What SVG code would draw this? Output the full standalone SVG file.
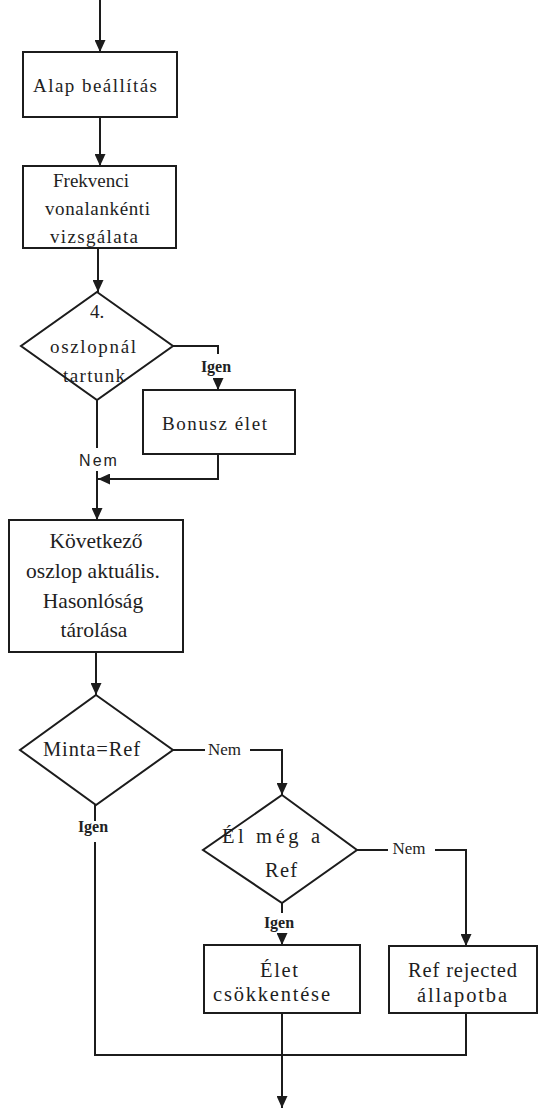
<svg xmlns="http://www.w3.org/2000/svg" width="538" height="1110" viewBox="0 0 538 1110">
<style>
.box{fill:#fff;stroke:#1c1c1c;stroke-width:2}
.ln{fill:none;stroke:#1c1c1c;stroke-width:2}
.arr{marker-end:url(#ah)}
.t{font-family:"Liberation Serif","Times New Roman",serif;font-size:19px;fill:#1e1e1e;text-anchor:middle}
.tb{font-family:"Liberation Serif","Times New Roman",serif;font-size:20.5px;fill:#1e1e1e;text-anchor:middle}
.t2{font-family:"Liberation Serif","Times New Roman",serif;font-size:21.5px;fill:#1e1e1e;text-anchor:middle}
.lb{font-family:"Liberation Serif","Times New Roman",serif;font-size:16px;font-weight:bold;fill:#222;text-anchor:middle}
.ln2{font-family:"Liberation Serif","Times New Roman",serif;font-size:17px;fill:#222;text-anchor:middle}
.ls{font-family:"Liberation Sans",Arial,sans-serif;font-size:16px;letter-spacing:2px;fill:#222;text-anchor:middle}
</style>
<defs>
<marker id="ah" markerUnits="userSpaceOnUse" markerWidth="12" markerHeight="11" refX="12" refY="5.5" orient="auto">
<path d="M0,0 L12,5.5 L0,11 Z" fill="#1c1c1c"/>
</marker>
</defs>
<rect width="538" height="1110" fill="#fff"/>
<g id="connectors">
<path class="ln arr" d="M100,0 V52"/>
<path class="ln arr" d="M100,117 V166"/>
<path class="ln arr" d="M98,248 V292"/>
<path class="ln" d="M173,346 H218 V354"/>
<path class="ln arr" d="M218,378 V390"/>
<path class="ln" d="M97,400 V448"/>
<path class="ln arr" d="M218,454 V479 H98"/>
<path class="ln arr" d="M97,471 V520"/>
<path class="ln arr" d="M96,652 V695"/>
<path class="ln" d="M173,750 H205"/>
<path class="ln arr" d="M250,750 H282 V795"/>
<path class="ln" d="M95,805 V821"/>
<path class="ln" d="M95,842 V1055 H466 V1013"/>
<path class="ln" d="M357,850 H388"/>
<path class="ln arr" d="M435,850 H466 V946"/>
<path class="ln" d="M282,903 V913"/>
<path class="ln arr" d="M282,933 V945"/>
<path class="ln arr" d="M282,1013 V1108"/>
<text class="lb" x="216" y="372">Igen</text>
<text class="ls" x="99" y="466">Nem</text>
<text class="ln2" x="224.5" y="755">Nem</text>
<text class="lb" x="93" y="832">Igen</text>
<text class="ln2" x="409" y="854">Nem</text>
<text class="lb" x="279" y="928">Igen</text>
</g>
<g id="alap">
<rect class="box" x="23" y="52" width="154" height="65"/>
<text class="t" x="95" y="92" textLength="124" lengthAdjust="spacing">Alap beállítás</text>
</g>
<g id="frekvenci">
<rect class="box" x="23" y="166" width="153" height="82"/>
<text class="t" x="91" y="187" textLength="76" lengthAdjust="spacing">Frekvenci</text>
<text class="t" x="97.5" y="215" textLength="105" lengthAdjust="spacing">vonalankénti</text>
<text class="t" x="94" y="243" textLength="88" lengthAdjust="spacing">vizsgálata</text>
</g>
<g id="dontes1">
<polygon class="box" points="97,292 173,346 97,400 21,346"/>
<text class="t" x="97" y="318">4.</text>
<text class="t" x="93" y="353" textLength="86" lengthAdjust="spacing">oszlopnál</text>
<text class="t" x="94" y="382" textLength="62" lengthAdjust="spacing">tartunk</text>
</g>
<g id="bonusz">
<rect class="box" x="143" y="390" width="152" height="64"/>
<text class="t" x="214.5" y="430" textLength="105" lengthAdjust="spacing">Bonusz élet</text>
</g>
<g id="kovetkezo">
<rect class="box" x="9" y="520" width="174" height="132"/>
<text class="t2" x="96" y="548">Következő</text>
<text class="t2" x="93" y="578">oszlop aktuális.</text>
<text class="t2" x="93" y="608">Hasonlóság</text>
<text class="t2" x="94" y="637">tárolása</text>
</g>
<g id="minta">
<polygon class="box" points="96,695 173,750 96,805 20,750"/>
<text class="tb" x="91.5" y="756" textLength="97" lengthAdjust="spacing">Minta=Ref</text>
</g>
<g id="elmeg">
<polygon class="box" points="282,795 357,850 282,903 203,850"/>
<text class="tb" x="271" y="843" textLength="98" lengthAdjust="spacing">Él még a</text>
<text class="tb" x="281" y="877" textLength="32" lengthAdjust="spacing">Ref</text>
</g>
<g id="elet">
<rect class="box" x="204" y="945" width="156" height="68"/>
<text class="tb" x="279" y="977" textLength="38" lengthAdjust="spacing">Élet</text>
<text class="tb" x="271.5" y="1001" textLength="117" lengthAdjust="spacing">csökkentése</text>
</g>
<g id="rejected">
<rect class="box" x="389" y="946" width="148" height="67"/>
<text class="tb" x="462.5" y="977" textLength="109" lengthAdjust="spacing">Ref rejected</text>
<text class="tb" x="462" y="1002" textLength="90" lengthAdjust="spacing">állapotba</text>
</g>
</svg>
